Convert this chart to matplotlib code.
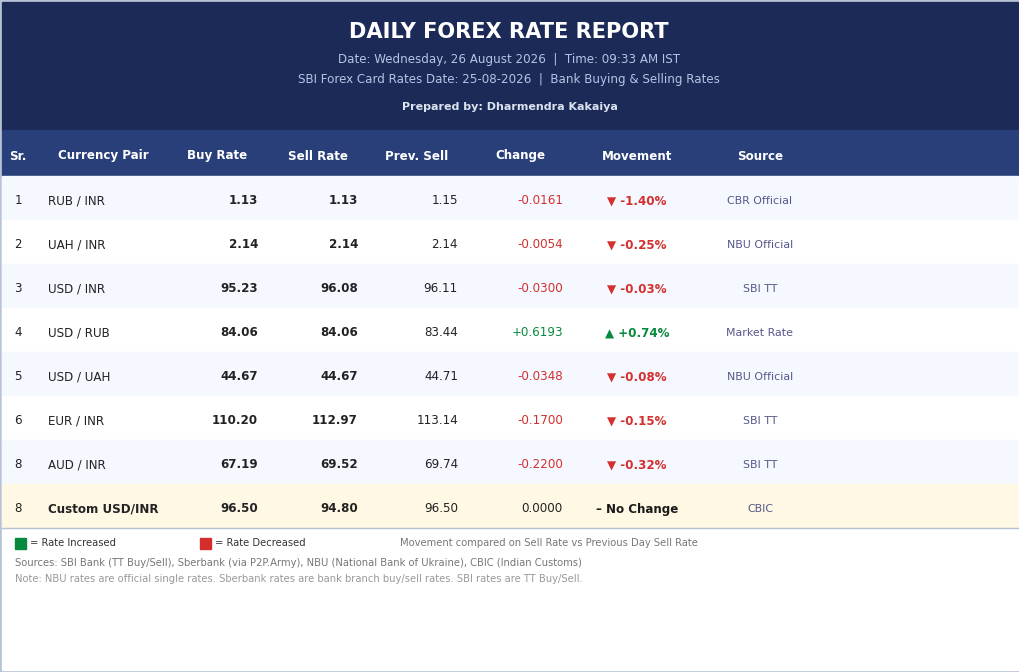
import matplotlib.pyplot as plt
from matplotlib.patches import Rectangle

plt.rcParams["font.family"] = ["DejaVu Sans"]

# table data
sr_no = ["1", "2", "3", "4", "5", "6", "8", "8"]
pairs = ["RUB / INR", "UAH / INR", "USD / INR", "USD / RUB", "USD / UAH",
         "EUR / INR", "AUD / INR", "Custom USD/INR"]
buy_rate = [1.13, 2.14, 95.23, 84.06, 44.67, 110.20, 67.19, 96.50]
sell_rate = [1.13, 2.14, 96.08, 84.06, 44.67, 112.97, 69.52, 94.80]
prev_sell = [1.15, 2.14, 96.11, 83.44, 44.71, 113.14, 69.74, 96.50]
change = [-0.0161, -0.0054, -0.0300, 0.6193, -0.0348, -0.1700, -0.2200, 0.0]
change_pct = [-1.40, -0.25, -0.03, 0.74, -0.08, -0.15, -0.32, None]
sources = ["CBR Official", "NBU Official", "SBI TT", "Market Rate", "NBU Official",
           "SBI TT", "SBI TT", "CBIC"]
headers = ["Sr.", "Currency Pair", "Buy Rate", "Sell Rate", "Prev. Sell",
           "Change", "Movement", "Source"]

W, H = 1020, 672
NAVY = "#1b2a57"
BAND = "#283f79"
RED = "#d32f2f"
GREEN = "#078a3e"
EDGE = "#b6c1d6"
FS = 8.6

fig = plt.figure(figsize=(W / 100, H / 100), dpi=100)
ax = fig.add_axes([0, 0, 1, 1])
ax.set_xlim(0, W)
ax.set_ylim(H, 0)
ax.axis("off")

ax.add_patch(Rectangle((0, 0), W, H, color=EDGE))
ax.add_patch(Rectangle((2, 2), W - 4, H - 4, color="white"))
ax.add_patch(Rectangle((2, 2), W - 4, 128, color=NAVY))
ax.add_patch(Rectangle((2, 130), W - 4, 46, color=BAND))

# title block
ax.text(509, 32, "DAILY FOREX RATE REPORT", color="white", fontsize=15.1,
        fontweight="bold", ha="center", va="center")
ax.text(509, 60, "Date: Wednesday, 26 August 2026  |  Time: 09:33 AM IST",
        color="#b4c4e4", fontsize=FS, ha="center", va="center")
ax.text(509, 80, "SBI Forex Card Rates Date: 25-08-2026  |  Bank Buying & Selling Rates",
        color="#b4c4e4", fontsize=FS, ha="center", va="center")
ax.text(510, 107, "Prepared by: Dharmendra Kakaiya", color="#dce3f0", fontsize=8,
        fontweight="bold", ha="center", va="center")

# column headers
head_x = [18, 103, 217, 318, 417, 520, 637, 760]
for hx, h in zip(head_x, headers):
    ax.text(hx, 156, h, color="white", fontsize=FS, fontweight="bold",
            ha="center", va="center")

row_h = 44
top = 176
n = len(pairs)
for i in range(n):
    y0 = top + i * row_h
    last = i == n - 1
    if last:
        bg = "#fef8e4"
    elif i % 2 == 0:
        bg = "#f5f8ff"
    else:
        bg = "white"
    ax.add_patch(Rectangle((2, y0), W - 4, row_h, color=bg))
    yc = y0 + row_h / 2 + 3
    ax.text(18, yc, sr_no[i], color="#222222", fontsize=FS, ha="center", va="center")
    ax.text(48, yc, pairs[i], color="#222222", fontsize=FS, ha="left", va="center",
            fontweight="bold" if last else "normal")
    ax.text(258, yc, f"{buy_rate[i]:.2f}", color="#222222", fontsize=FS,
            fontweight="bold", ha="right", va="center")
    ax.text(358, yc, f"{sell_rate[i]:.2f}", color="#222222", fontsize=FS,
            fontweight="bold", ha="right", va="center")
    ax.text(458, yc, f"{prev_sell[i]:.2f}", color="#222222", fontsize=FS,
            ha="right", va="center")
    c = change[i]
    if c > 0:
        ccol, ctxt = GREEN, f"+{c:.4f}"
    elif c < 0:
        ccol, ctxt = RED, f"{c:.4f}"
    else:
        ccol, ctxt = "#222222", f"{c:.4f}"
    ax.text(563, yc, ctxt, color=ccol, fontsize=FS, ha="right", va="center")
    p = change_pct[i]
    if p is None:
        ax.text(637, yc, "\u2013 No Change", color="#1a1a1a", fontsize=FS,
                fontweight="bold", ha="center", va="center")
    elif p > 0:
        ax.text(637, yc, f"\u25b2 +{p:.2f}%", color=GREEN, fontsize=FS,
                fontweight="bold", ha="center", va="center")
    else:
        ax.text(637, yc, f"\u25bc {p:.2f}%", color=RED, fontsize=FS,
                fontweight="bold", ha="center", va="center")
    ax.text(760, yc, sources[i], color="#55588a", fontsize=7.9, ha="center", va="center")

ax.plot([2, W - 2], [top + n * row_h, top + n * row_h], color=EDGE, lw=1)

# footer legend
FF = 7.2
ax.add_patch(Rectangle((15, 538), 11, 11, color=GREEN))
ax.text(30, 543, "= Rate Increased", color="#333333", fontsize=FF, va="center")
ax.add_patch(Rectangle((200, 538), 11, 11, color=RED))
ax.text(215, 543, "= Rate Decreased", color="#333333", fontsize=FF, va="center")
ax.text(400, 543, "Movement compared on Sell Rate vs Previous Day Sell Rate",
        color="#777777", fontsize=FF, va="center")
ax.text(15, 563, "Sources: SBI Bank (TT Buy/Sell), Sberbank (via P2P.Army), "
        "NBU (National Bank of Ukraine), CBIC (Indian Customs)",
        color="#777777", fontsize=FF, va="center")
ax.text(15, 579, "Note: NBU rates are official single rates. Sberbank rates are bank "
        "branch buy/sell rates. SBI rates are TT Buy/Sell.",
        color="#999999", fontsize=FF, va="center")

fig.savefig("out.png", dpi=100)
